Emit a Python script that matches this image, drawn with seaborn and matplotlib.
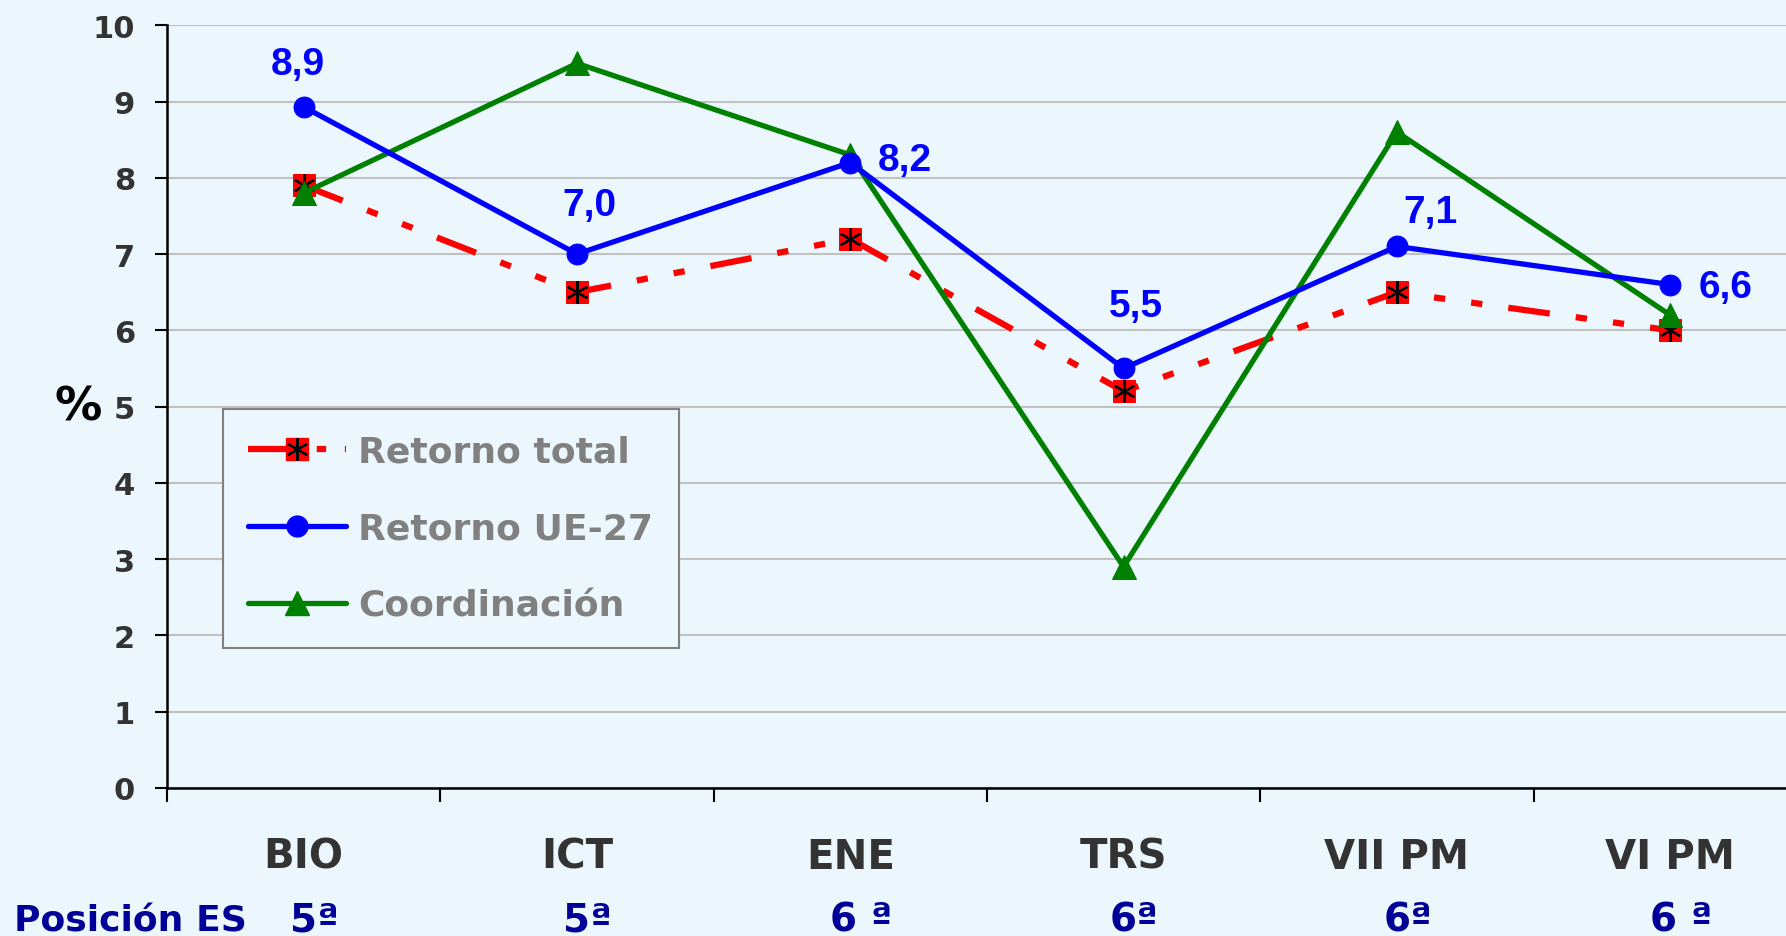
import matplotlib
matplotlib.use("Agg")
import matplotlib.pyplot as plt
import matplotlib.transforms as mtransforms
from matplotlib.lines import Line2D
import seaborn as sns
import pandas as pd

# data
categories = ["BIO", "ICT", "ENE", "TRS", "VII PM", "VI PM"]
retorno_total = [7.9, 6.5, 7.2, 5.2, 6.5, 6.0]
retorno_ue27 = [8.93, 7.0, 8.2, 5.5, 7.1, 6.6]
coordinacion = [7.8, 9.5, 8.3, 2.9, 8.6, 6.2]
ue27_labels = ["8,9", "7,0", "8,2", "5,5", "7,1", "6,6"]
posicion_es = ["5ª", "5ª", "6 ª", "6ª", "6ª", "6 ª"]

bg = "#EBF7FD"
sns.set_theme(style="white", rc={"axes.facecolor": bg, "figure.facecolor": bg})
plt.rcParams["font.family"] = ["DejaVu Sans"]
plt.rcParams["font.weight"] = "bold"

df = pd.DataFrame({"cat": categories, "x": range(len(categories)),
                   "total": retorno_total, "ue27": retorno_ue27, "coord": coordinacion})

red_dash = (0, (6.7, 4.2, 1.8, 4.2, 1.8, 4.2))

fig = plt.figure(figsize=(17.86, 9.37), dpi=100)
ax = fig.add_axes([167 / 1786, 0.158, 1 - 167 / 1786, 0.814])

sns.lineplot(data=df, x="x", y="coord", ax=ax, color="#008000", lw=3.8,
             marker="^", markersize=17, markeredgecolor="#008000", zorder=3)
sns.lineplot(data=df, x="x", y="ue27", ax=ax, color="#0000FF", lw=3.8,
             marker="o", markersize=15, markeredgecolor="#0000FF", zorder=4)
sns.lineplot(data=df, x="x", y="total", ax=ax, color="#FF0000", lw=4.5,
             linestyle=red_dash, marker="s", markersize=16,
             markeredgecolor="#FF0000", zorder=2)
ax.plot(df["x"], df["total"], linestyle="none", marker=(6, 2, 0), markersize=16,
        color="black", mew=1.6, zorder=2.5)

# value labels for UE-27
offsets = [(-4, 31), (9, 35), (39, 2), (9, 45), (24, 25), (40, -2)]
for xi, yi, lab, off in zip(df["x"], retorno_ue27, ue27_labels, offsets):
    ax.annotate(lab, (xi, yi), xytext=off, textcoords="offset points",
                ha="center", va="center", color="#0000FF", fontsize=28,
                fontweight="bold", family="Liberation Sans")

ax.set_xlim(-0.5, -0.5 + 1619 / 273.3)
ax.set_ylim(0, 10)
ax.set_yticks(range(0, 11))
ax.yaxis.grid(True, color="#C0C0C0", lw=1.5)
ax.set_axisbelow(True)
for s in ["top", "right"]:
    ax.spines[s].set_visible(False)
for s in ["left", "bottom"]:
    ax.spines[s].set_color("black")
    ax.spines[s].set_linewidth(1.8)

ax.set_xticks([i - 0.5 for i in range(len(categories))])
ax.set_xticklabels([])
ax.set_xticks(range(len(categories)), minor=True)
ax.set_xticklabels(categories, minor=True, fontsize=29, color="#333333", fontweight="bold")
ax.tick_params(axis="x", which="major", direction="out", length=10, width=1.5, color="black", bottom=True)
ax.tick_params(axis="x", which="minor", length=0, pad=35)
ax.tick_params(axis="y", direction="out", length=9, width=1.5, color="black", left=True,
               pad=14, labelsize=22, labelcolor="#333333")
for t in ax.get_yticklabels():
    t.set_fontweight("bold")

ax.set_xlabel("")
ax.set_ylabel("%", rotation=0, fontsize=34, fontweight="bold", color="black",
              ha="center", va="center")
ax.yaxis.set_label_coords(-0.055, 0.5)

# position row
trans = mtransforms.blended_transform_factory(ax.transData, fig.transFigure)
fig.text(14 / 1786, 0.006, "Posición ES", ha="left", va="baseline", fontsize=26,
         fontweight="bold", color="#000099")
for xi, p in zip(df["x"], posicion_es):
    ax.text(xi + 0.04, 0.006, p, transform=trans, ha="center", va="baseline",
            fontsize=28, fontweight="bold", color="#000099")

handles = [
    (Line2D([], [], color="#FF0000", lw=4.5, linestyle=(0, (8, 3, 1.5, 3)), marker="s",
            markersize=16, markeredgecolor="#FF0000"),
     Line2D([], [], linestyle="none", marker=(6, 2, 0), markersize=16, color="black", mew=1.6)),
    Line2D([], [], color="#0000FF", lw=3.8, marker="o", markersize=15),
    Line2D([], [], color="#008000", lw=3.8, marker="^", markersize=17),
]
leg = ax.legend(handles, ["Retorno total", "Retorno UE-27", "Coordinación"],
                loc="upper left", bbox_to_anchor=(0.0346, 0.497), borderaxespad=0,
                fontsize=26, frameon=True, fancybox=False, edgecolor="#808080",
                facecolor=bg, framealpha=1, handlelength=2.7, labelspacing=1.2,
                borderpad=0.7, handletextpad=0.35)
leg.get_frame().set_linewidth(1.5)
for t in leg.get_texts():
    t.set_color("#808080")
    t.set_fontweight("bold")

fig.savefig("out.png", dpi=100, facecolor=bg)
